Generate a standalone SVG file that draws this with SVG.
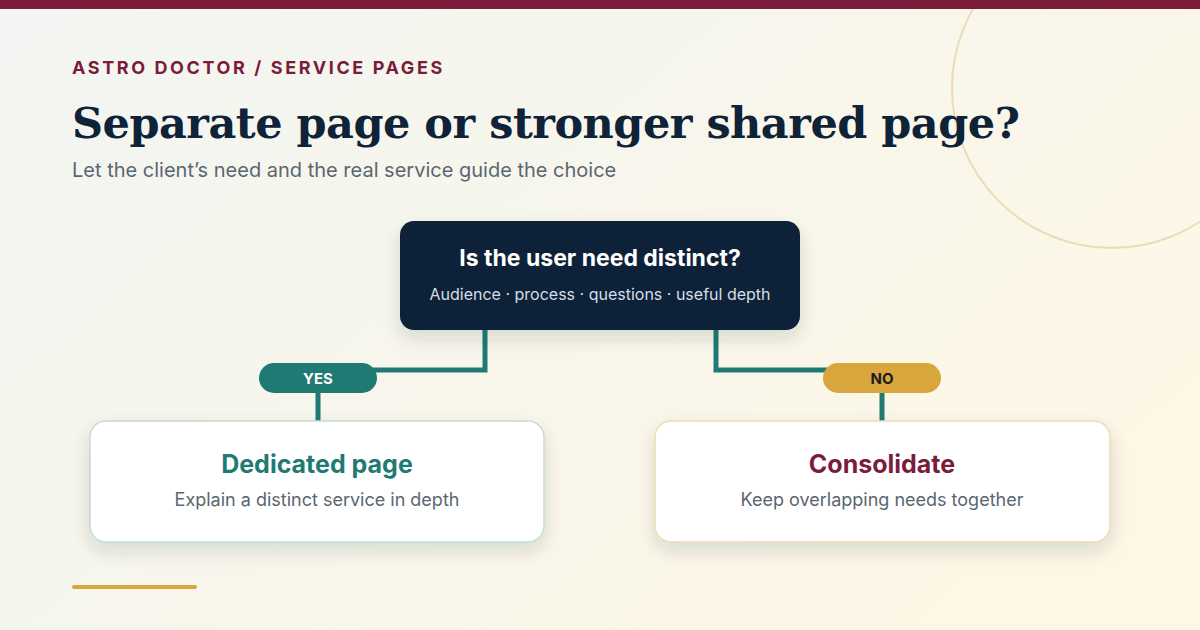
<svg xmlns="http://www.w3.org/2000/svg" width="1200" height="630" viewBox="0 0 1200 630">
<defs>
<linearGradient id="bg" x1="0" y1="0" x2="1" y2="0.6">
<stop offset="0" stop-color="#f2f5f2"/><stop offset="1" stop-color="#fdf7e6"/>
</linearGradient>
<filter id="sh" x="-20%" y="-30%" width="140%" height="170%"><feDropShadow dx="0" dy="8" stdDeviation="9" flood-color="#0e2238" flood-opacity="0.14"/></filter>
<style>
.sans{font-family:Inter,"Liberation Sans",Arial,sans-serif}
.conn{fill:none;stroke:#1f7a74;stroke-width:5}
.card{fill:#fff;stroke-width:1.5}
</style>
</defs>
<rect width="1200" height="630" fill="url(#bg)"/>
<circle cx="1112" cy="88" r="160" fill="none" stroke="#ecdcb5" stroke-width="2"/>
<rect width="1200" height="9" fill="#7a1c3a"/>
<text x="72" y="74" class="sans" font-size="18" font-weight="700" letter-spacing="2.6" fill="#7a1c3a">ASTRO DOCTOR / SERVICE PAGES</text>
<text x="72" y="138" font-family="'DejaVu Serif','Liberation Serif',serif" font-size="43" font-weight="700" fill="#0e2238" letter-spacing="-0.5">Separate page or stronger shared page?</text>
<text x="72" y="177" class="sans" font-size="20" fill="#5b6670">Let the client’s need and the real service guide the choice</text>
<g id="connectors">
<path class="conn" d="M485 330V370H318V421"/>
<path class="conn" d="M716 330V370H882V421"/>
</g>
<g id="question">
<rect x="400" y="221" width="400" height="109" rx="14" fill="#0e2238" filter="url(#sh)"/>
<text x="600" y="266" text-anchor="middle" class="sans" font-size="23" font-weight="700" fill="#fff">Is the user need distinct?</text>
<text x="600" y="300" text-anchor="middle" class="sans" font-size="16" fill="#d6dde6">Audience · process · questions · useful depth</text>
</g>
<g id="yes">
<rect x="259" y="363" width="118" height="30" rx="15" fill="#1f7a74"/>
<text x="318" y="384" text-anchor="middle" class="sans" font-size="15" font-weight="700" fill="#fff">YES</text>
</g>
<g id="no">
<rect x="823" y="363" width="118" height="30" rx="15" fill="#d9a63e"/>
<text x="882" y="384" text-anchor="middle" class="sans" font-size="15" font-weight="700" fill="#1c1c1c">NO</text>
</g>
<g id="dedicated">
<rect x="90" y="421" width="454" height="121" rx="16" class="card" stroke="#c4dcd8" filter="url(#sh)"/>
<text x="317" y="473" text-anchor="middle" class="sans" font-size="25" font-weight="700" fill="#1f7a74">Dedicated page</text>
<text x="317" y="506" text-anchor="middle" class="sans" font-size="18" fill="#5b6670">Explain a distinct service in depth</text>
</g>
<g id="consolidate">
<rect x="655" y="421" width="455" height="121" rx="16" class="card" stroke="#ecdcb5" filter="url(#sh)"/>
<text x="882" y="473" text-anchor="middle" class="sans" font-size="25" font-weight="700" fill="#7a1c3a">Consolidate</text>
<text x="882" y="506" text-anchor="middle" class="sans" font-size="18" fill="#5b6670">Keep overlapping needs together</text>
</g>
<rect x="72" y="585" width="125" height="4" rx="2" fill="#d9a63e"/>
</svg>
